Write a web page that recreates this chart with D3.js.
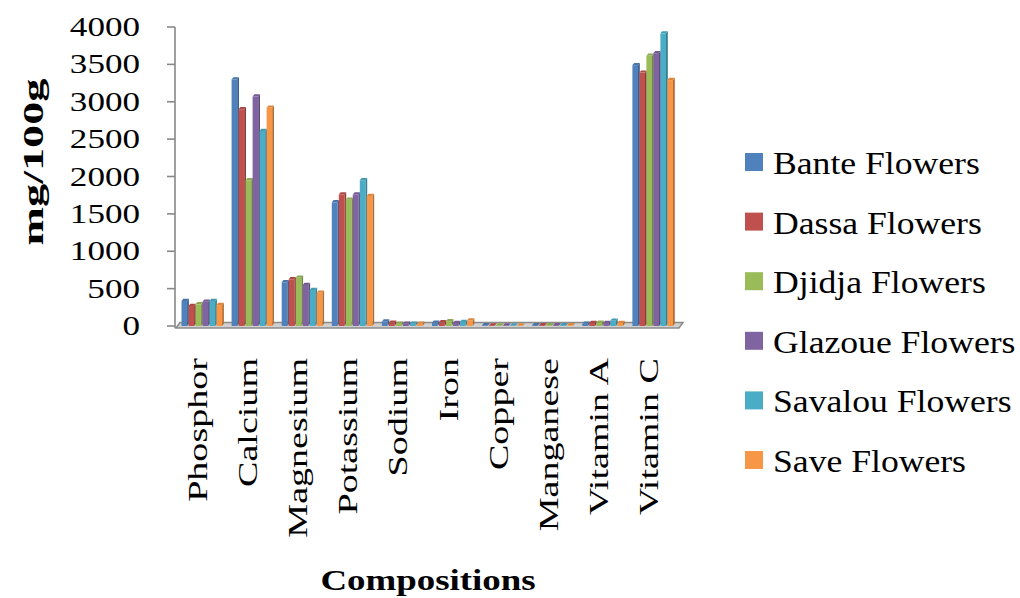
<!DOCTYPE html>
<html><head><meta charset="utf-8">
<script src="https://cdn.jsdelivr.net/npm/d3@7"></script>
<style>html,body{margin:0;padding:0;background:#fff;}svg{display:block;}</style>
</head><body>
<svg id="c" width="1020" height="598"></svg>
<script>
const categories = ["Phosphor","Calcium","Magnesium","Potassium","Sodium","Iron","Copper","Manganese","Vitamin A","Vitamin C"];
const seriesNames = ["Bante Flowers","Dassa Flowers","Djidja Flowers","Glazoue Flowers","Savalou Flowers","Save Flowers"];
const bante   = [335, 3300, 585, 1655, 60, 45, 10, 12, 30, 3490];
const dassa   = [268, 2900, 625, 1760, 45, 50, 8, 12, 40, 3390];
const djidja  = [290, 1950, 645, 1690, 30, 65, 8, 12, 45, 3615];
const glazoue = [325, 3070, 550, 1760, 30, 40, 8, 12, 40, 3650];
const savalou = [335, 2610, 482, 1950, 30, 55, 8, 12, 70, 3915];
const save    = [280, 2920, 446, 1740, 30, 75, 8, 12, 40, 3290];
const yTicks = [0, 500, 1000, 1500, 2000, 2500, 3000, 3500, 4000];
const colors = ["#4F81BD","#C0504D","#9BBB59","#8064A2","#4BACC6","#F79646"];

const seriesValues = [bante, dassa, djidja, glazoue, savalou, save];
const svg = d3.select("#c");
const font = "'Liberation Serif','Times New Roman',serif";

const y = d3.scaleLinear().domain([0, 4000]).range([326, 27]);
const x = d3.scaleBand().domain(categories).range([176, 677]).padding(0);
const xi = d3.scaleBand().domain(seriesNames).range([5.5, 47.5]).padding(0);

// floor
const floor = d3.path();
floor.moveTo(x.range()[0], 328);
floor.lineTo(x.range()[1] + 2, 328);
floor.lineTo(x.range()[1] + 6, 322.5);
floor.lineTo(x.range()[0] + 4, 322.5);
floor.closePath();
svg.append("path").attr("d", floor.toString()).attr("fill", "#d0d0d0").attr("stroke", "#8a8a8a").attr("stroke-width", 1.5);

// y axis
const yAxis = svg.append("g");
yAxis.append("line").attr("x1", 175).attr("x2", 175).attr("y1", y(4000)).attr("y2", 328)
  .attr("stroke", "#888").attr("stroke-width", 1.6);
yAxis.selectAll("line.t").data(yTicks).join("line").attr("class","t")
  .attr("x1", 167).attr("x2", 175).attr("y1", d => y(d)).attr("y2", d => y(d))
  .attr("stroke", "#888").attr("stroke-width", 1.6);
yAxis.selectAll("text").data(yTicks).join("text")
  .attr("transform", d => `translate(140,${y(d) + 9}) scale(1.3,1)`)
  .attr("text-anchor", "end").attr("font-family", font).attr("font-size", 27).attr("fill", "#000")
  .text(d => d);

// bars (pseudo-3D)
const bw = 5.6, dx = 1.8, dy = 2.2;
const barData = [];
categories.forEach((c, i) => seriesNames.forEach((s, j) => barData.push({c, s, j, v: seriesValues[j][i]})));
const bars = svg.append("g").selectAll("g").data(barData).join("g");
bars.each(function(d) {
  const g = d3.select(this);
  const x0 = x(d.c) + xi(d.s);
  const yt = y(d.v), yb = y(0);
  const col = d3.color(colors[d.j]);
  // side
  g.append("path").attr("d", `M${x0+bw},${yb} L${x0+bw},${yt} L${x0+bw+dx},${yt-dy} L${x0+bw+dx},${yb-dy} Z`)
    .attr("fill", col.darker(0.9));
  // top
  g.append("path").attr("d", `M${x0},${yt} L${x0+dx},${yt-dy} L${x0+bw+dx},${yt-dy} L${x0+bw},${yt} Z`)
    .attr("fill", col.darker(0.3));
  // front
  g.append("rect").attr("x", x0).attr("y", yt).attr("width", bw).attr("height", Math.max(0, yb - yt))
    .attr("fill", col);
});

// x labels
svg.append("g").selectAll("text").data(categories).join("text")
  .attr("transform", d => `translate(${x(d) + x.bandwidth()/2 + 6},358) rotate(-90) scale(1.36,1)`)
  .attr("text-anchor", "end").attr("font-family", font).attr("font-size", 28).attr("fill", "#000")
  .text(d => d);

// y title
svg.append("text")
  .attr("transform", `translate(43,162) rotate(-90) scale(1.54,1)`)
  .attr("text-anchor", "middle").attr("font-family", font).attr("font-weight", "bold")
  .attr("font-size", 30).attr("fill", "#000").text("mg/100g");

// x title
svg.append("text")
  .attr("transform", `translate(428,590) scale(1.23,1)`)
  .attr("text-anchor", "middle").attr("font-family", font).attr("font-weight", "bold")
  .attr("font-size", 30).attr("fill", "#000").text("Compositions");

// legend
const leg = svg.append("g").selectAll("g").data(seriesNames).join("g")
  .attr("transform", (d, i) => `translate(745,${162 + i * 59.6})`);
leg.append("rect").attr("x", 0).attr("y", -9).attr("width", 18).attr("height", 18)
  .attr("fill", (d, i) => colors[i]);
leg.append("text").attr("transform", "translate(28,12) scale(1.15,1)")
  .attr("font-family", font).attr("font-size", 31).attr("fill", "#000").text(d => d);
</script>
</body></html>
